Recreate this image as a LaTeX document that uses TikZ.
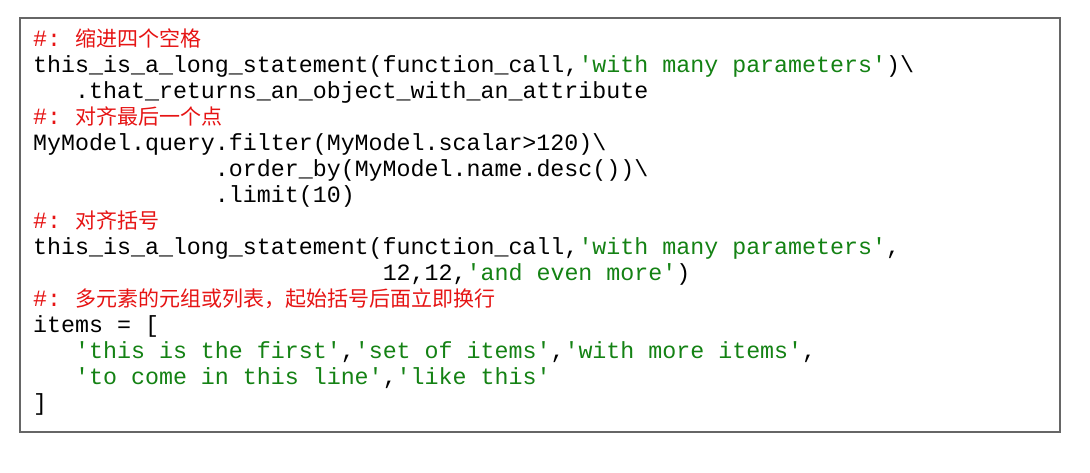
\documentclass[tikz,border=0pt]{standalone}
\usepackage{fontspec}
\setmonofont{Liberation Mono}
\newfontfamily\cjk{Noto Sans CJK SC}
\definecolor{strg}{RGB}{20,130,20}
\definecolor{cmt}{RGB}{230,20,20}
\newcommand{\Gs}[1]{\textcolor{strg}{#1}}
\newcommand{\Cm}[1]{\textcolor{cmt}{\ttfamily\#:~{\cjk\fontsize{21}{21}\selectfont #1}}}
\begin{document}
\begin{tikzpicture}[x=1pt,y=-1pt,
  ln/.style={anchor=base west,inner sep=0pt,font=\ttfamily\fontsize{23.3}{26}\selectfont}]
\useasboundingbox (0,0) rectangle (1090,472);
\fill[white] (0,0) rectangle (1090,472);
\draw[line width=2pt,draw=gray!80!black] (20,18) rectangle (1060,432);
\node[ln] (l1) at (33,46) {\Cm{缩进四个空格}};
\node[ln] (l2) at (33,72) {this\_is\_a\_long\_statement(function\_call,\Gs{'with~many~parameters'})\textbackslash};
\node[ln] (l3) at (33,98) {~~~.that\_returns\_an\_object\_with\_an\_attribute};
\node[ln] (l4) at (33,124) {\Cm{对齐最后一个点}};
\node[ln] (l5) at (33,150) {MyModel.query.filter(MyModel.scalar>120)\textbackslash};
\node[ln] (l6) at (33,176) {~~~~~~~~~~~~~.order\_by(MyModel.name.desc())\textbackslash};
\node[ln] (l7) at (33,202) {~~~~~~~~~~~~~.limit(10)};
\node[ln] (l8) at (33,228) {\Cm{对齐括号}};
\node[ln] (l9) at (33,254) {this\_is\_a\_long\_statement(function\_call,\Gs{'with~many~parameters'},};
\node[ln] (l10) at (33,280) {~~~~~~~~~~~~~~~~~~~~~~~~~12,12,\Gs{'and~even~more'})};
\node[ln] (l11) at (33,306) {\Cm{多元素的元组或列表，起始括号后面立即换行}};
\node[ln] (l12) at (33,332) {items~=~[};
\node[ln] (l13) at (33,358) {~~~\Gs{'this~is~the~first'},\Gs{'set~of~items'},\Gs{'with~more~items'},};
\node[ln] (l14) at (33,384) {~~~\Gs{'to~come~in~this~line'},\Gs{'like~this'}};
\node[ln] (l15) at (33,410) {]};
\end{tikzpicture}
\end{document}
